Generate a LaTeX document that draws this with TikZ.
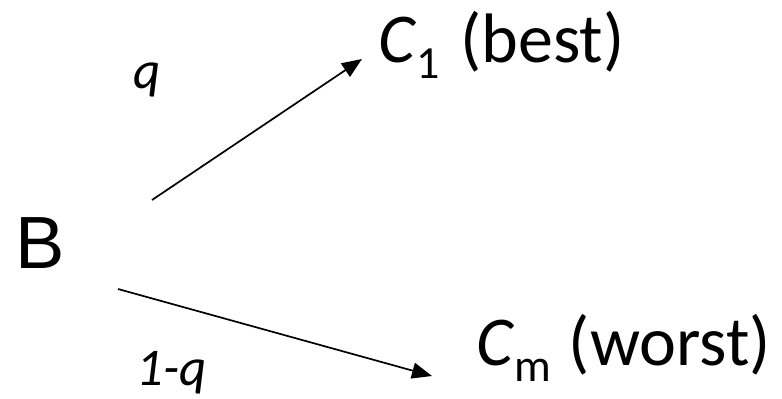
\documentclass[tikz,border=0pt]{standalone}
\usepackage{fontspec}
\setmainfont{Carlito}
\newfontfamily\bfont{Liberation Sans}
\usetikzlibrary{arrows.meta}
\newcommand{\mysub}[1]{\raisebox{-16pt}{\fontsize{46}{46}\selectfont #1}}
\tikzset{
  lbl/.style={inner sep=0pt, anchor=base west, font=\fontsize{70}{74}\selectfont},
  prob/.style={inner sep=0pt, anchor=base west, font=\fontsize{53}{56}\selectfont\itshape},
  conn/.style={line width=1.7pt, -{Triangle[length=20pt,width=16pt]}}
}
\begin{document}
\begin{tikzpicture}[x=1pt,y=-1pt]
\useasboundingbox (0,0) rectangle (782,399);
\node[inner sep=0pt, anchor=base west, font=\bfont\fontsize{74}{78}\selectfont] (B) at (15,268) {B};
\coordinate (s1) at (152,200);
\coordinate (s2) at (118,289);
\node[lbl] (C1) at (378,62) {\textit{C}\mysub{1}\hspace{5pt} (best)};
\node[lbl] (Cm) at (476,365) {\textit{C}\mysub{m}\hspace{2pt} (worst)};
\coordinate (t1) at (362,59);
\coordinate (t2) at (432,376);
\draw[conn] (s1) -- (t1);
\draw[conn] (s2) -- (t2);
\node[prob] (q) at (133,88) {q};
\node[prob] (q2) at (136,385) {1-q};
\end{tikzpicture}
\end{document}
